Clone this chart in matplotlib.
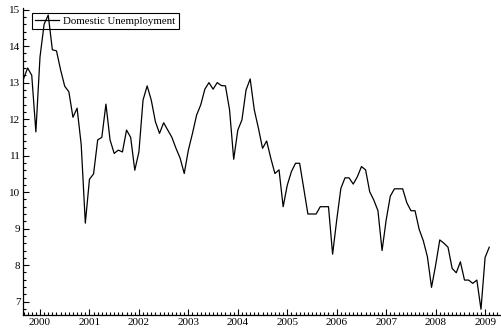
import matplotlib
matplotlib.use("Agg")
import matplotlib.pyplot as plt
import numpy as np
from matplotlib.ticker import MultipleLocator

# monthly series, Sep 1999 .. Feb 2009
start_year = 1999
start_month = 9
unemployment = [
    13.1, 13.4, 13.2, 11.65,                                            # 1999
    13.7, 14.6, 14.85, 13.9, 13.87, 13.35, 12.9, 12.75, 12.05, 12.3, 11.3, 9.15,   # 2000
    10.35, 10.5, 11.43, 11.5, 12.41, 11.43, 11.06, 11.15, 11.1, 11.7, 11.5, 10.6,  # 2001
    11.1, 12.52, 12.91, 12.52, 11.93, 11.61, 11.9, 11.7, 11.5, 11.2, 10.93, 10.51, # 2002
    11.15, 11.61, 12.11, 12.39, 12.82, 13.0, 12.82, 13.0, 12.92, 12.91, 12.25, 10.9,  # 2003
    11.7, 11.98, 12.8, 13.1, 12.25, 11.75, 11.2, 11.4, 10.93, 10.51, 10.61, 9.6,   # 2004
    10.19, 10.56, 10.79, 10.79, 10.1, 9.4, 9.4, 9.4, 9.6, 9.6, 9.6, 8.3,           # 2005
    9.24, 10.1, 10.39, 10.39, 10.22, 10.42, 10.7, 10.61, 10.01, 9.78, 9.49, 8.4,   # 2006
    9.24, 9.89, 10.09, 10.09, 10.09, 9.71, 9.49, 9.49, 8.98, 8.67, 8.23, 7.39,     # 2007
    8.0, 8.69, 8.6, 8.49, 7.91, 7.79, 8.09, 7.59, 7.59, 7.5, 7.59, 6.79,           # 2008
    8.21, 8.49,                                                          # 2009
]
years = list(range(2000, 2010))

months = np.arange(len(unemployment)) + (start_month - 1)
t = start_year + months / 12.0

plt.rcParams['font.family'] = ['Liberation Serif', 'DejaVu Serif']

fig = plt.figure(figsize=(5.02, 3.34), dpi=100)
ax = fig.add_axes([23.3 / 502, 19 / 334, 1 - 23.3 / 502, (315 - 8.3) / 334])

ax.plot(t, unemployment, color='black', lw=0.9, label='Domestic Unemployment')

ax.set_xlim(2000 - 4.05 / 12, 2000 + 112.1 / 12)
ax.set_ylim(6.633, 15.036)

ax.set_xticks(years)
ax.set_xticklabels([str(y) for y in years])
ax.xaxis.set_minor_locator(MultipleLocator(1 / 12))
ax.set_yticks(range(7, 16))
ax.yaxis.set_minor_locator(MultipleLocator(0.2))

ax.tick_params(which='both', direction='in', labelsize=8, width=0.8,
               top=False, right=False, pad=2)
ax.tick_params(which='major', length=4)
ax.tick_params(which='minor', length=2)

for side in ('top', 'right'):
    ax.spines[side].set_visible(False)
for side in ('left', 'bottom'):
    ax.spines[side].set_linewidth(0.9)

leg = ax.legend(loc='upper left', bbox_to_anchor=(0.018, 0.985), fontsize=7.8,
                frameon=True, fancybox=False, edgecolor='black',
                handlelength=2.2, handletextpad=0.4, borderpad=0.3,
                borderaxespad=0)
frame = leg.get_frame()
frame.set_facecolor('none')
frame.set_alpha(None)
frame.set_linewidth(0.8)

fig.savefig('out.png', dpi=100)
